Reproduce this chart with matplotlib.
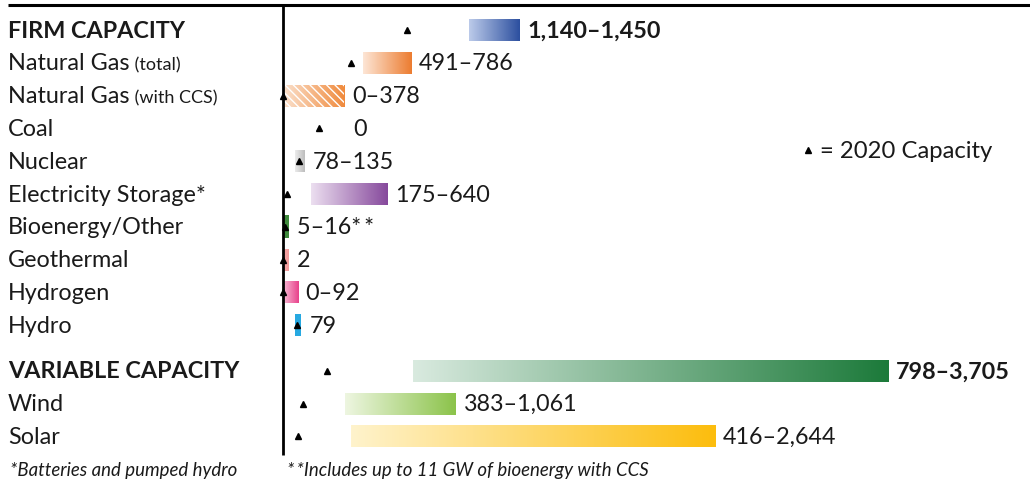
import numpy as np
import matplotlib
matplotlib.use("Agg")
import matplotlib.pyplot as plt
from matplotlib.colors import LinearSegmentedColormap
from matplotlib.patches import Rectangle
import matplotlib.transforms as mtransforms

# ---- data (GW) ----
categories = ["FIRM CAPACITY", "Natural Gas", "Natural Gas", "Coal", "Nuclear",
              "Electricity Storage*", "Bioenergy/Other", "Geothermal", "Hydrogen",
              "Hydro", "VARIABLE CAPACITY", "Wind", "Solar"]
category_notes = ["", " (total)", " (with CCS)", "", "", "", "", "", "", "", "", "", ""]
range_low = [1140, 491, 0, 0, 78, 175, 5, 2, 0, 79, 798, 383, 416]
range_high = [1450, 786, 378, 0, 135, 640, 16, 2, 92, 79, 3705, 1061, 2644]
value_labels = ["1,140–1,450", "491–786", "0–378", "0", "78–135", "175–640",
                "5–16*\u2009*", "2", "0–92", "79", "798–3,705", "383–1,061", "416–2,644"]
capacity_2020 = [760, 420, 0, 225, 100, 28, 14, 3, 0, 86, 275, 128, 95]
header_rows = [0, 10]

# ---- style ----
bar_colors = [
    ("#bccbea", "#2c4f9f"),
    ("#fde6d6", "#ec7c30"),
    ("#fbe1cd", "#f08a3c"),
    None,
    ("#ececec", "#bdbdbd"),
    ("#ecdff0", "#86499c"),
    ("#3f8a3c", "#3f8a3c"),
    ("#f4a9a9", "#f19a9a"),
    ("#f8bcd6", "#e8418b"),
    ("#27a9e1", "#27a9e1"),
    ("#d9eadf", "#1c7a3a"),
    ("#eef6e1", "#8bc34a"),
    ("#fff3cc", "#fcbd0d"),
]
hatched = [False, False, True] + [False] * 10

W, H, DPI = 1030, 483, 100
PX_PER_GW = 0.1635
ZERO_PX = 282.5
MIN_W = 36  # minimum drawn bar width in GW
FS = 16.8

plt.rcParams["font.family"] = ["Lato", "DejaVu Sans"]
plt.rcParams["hatch.linewidth"] = 1.0

fig = plt.figure(figsize=(W / DPI, H / DPI), dpi=DPI)
ax = fig.add_axes([0, 0, 1, 1])
ax.set_xlim(-ZERO_PX / PX_PER_GW, (W - ZERO_PX) / PX_PER_GW)
ax.set_ylim(H, 0)
ax.axis("off")

# row layout (in pixel rows)
row_y = []
for i in range(len(categories)):
    if i < 10:
        row_y.append(30 + i * 32.8)
    else:
        row_y.append(371 + (i - 10) * 32.7)
bar_h = 22

label_tf = mtransforms.blended_transform_factory(ax.transAxes, ax.transData)
offset = lambda px: mtransforms.offset_copy(ax.transData, fig=fig, x=px * 72 / DPI, y=0, units="points")

grad = np.linspace(0, 1, 256).reshape(1, -1)
name_texts = []
for i, (cat, note) in enumerate(zip(categories, category_notes)):
    y = row_y[i]
    bold = i in header_rows
    t = ax.text(8 / W, y + 7.5, cat, transform=label_tf, fontsize=FS,
                fontweight="bold" if bold else "normal", color="#1a1a1a", va="baseline")
    name_texts.append((t, note, y))

    lo, hi = range_low[i], range_high[i]
    if bar_colors[i] is not None:
        right = max(hi, lo + MIN_W)
        cmap = LinearSegmentedColormap.from_list(f"g{i}", list(bar_colors[i]))
        ax.imshow(grad, cmap=cmap, aspect="auto", interpolation="bilinear",
                  extent=[lo, right, y + bar_h / 2, y - bar_h / 2], zorder=2)
        if hatched[i]:
            ax.add_patch(Rectangle((lo, y - bar_h / 2), right - lo, bar_h, fill=False,
                                   hatch="\\\\\\\\", edgecolor="white", linewidth=0, zorder=3))
        end = right
    else:
        end = capacity_2020[i] + 34 / PX_PER_GW
    gap = 8 if bar_colors[i] is not None else 0
    ax.text(end, y + 7.5, value_labels[i], transform=offset(gap), fontsize=FS,
            fontweight="bold" if bold else "normal", color="#1a1a1a", va="baseline", zorder=4)

    ax.plot(capacity_2020[i], y, marker="^", color="black", markersize=4.2,
            linestyle="none", zorder=5)

# smaller parenthetical notes after category names
fig.canvas.draw()
renderer = fig.canvas.get_renderer()
for t, note, y in name_texts:
    if note:
        bb = t.get_window_extent(renderer)
        x_ax = bb.x1 / W
        ax.text(x_ax, y + 7.5, note, transform=label_tf, fontsize=13,
                color="#1a1a1a", va="baseline")

# frame lines
ax.plot([8 / W, 1.0], [5, 5], transform=label_tf, color="black", linewidth=2.2, zorder=6,
        solid_capstyle="butt")
ax.plot([0, 0], [5, 455], color="black", linewidth=2.0, zorder=6, solid_capstyle="butt")

# legend for the triangle marker
ax.plot([808 / W], [150], transform=label_tf, marker="^", color="black", markersize=4.2,
        linestyle="none")
ax.text(820 / W, 157.5, "= 2020 Capacity", transform=label_tf, fontsize=17.2,
        color="#1a1a1a", va="baseline")

# footnotes
ax.text(10 / W, 476, "*Batteries and pumped hydro", transform=label_tf, fontsize=13.4,
        style="italic", color="#1a1a1a", va="baseline")
ax.text(287 / W, 476, "*\u2009*Includes up to 11 GW of bioenergy with CCS", transform=label_tf,
        fontsize=13.4, style="italic", color="#1a1a1a", va="baseline")

fig.savefig("out.png", dpi=DPI, facecolor="white")
